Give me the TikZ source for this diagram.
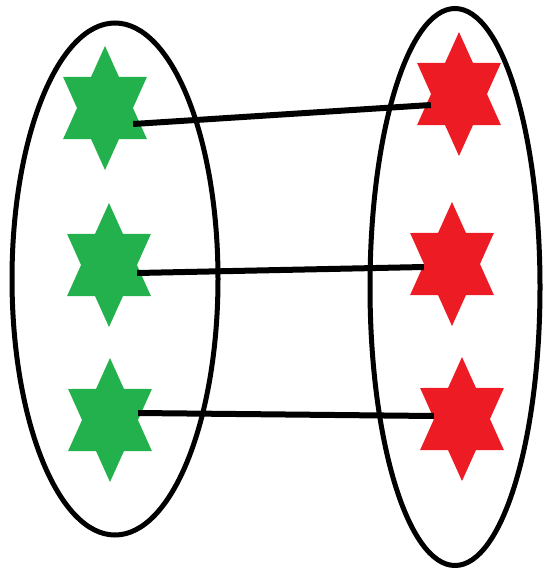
\documentclass[tikz,border=0pt]{standalone}
\usetikzlibrary{shapes.geometric}
\definecolor{leaf}{HTML}{22B14C}
\definecolor{brick}{HTML}{ED1C24}

\begin{document}
\begin{tikzpicture}[x=1pt, y=-1pt,
  st/.style={star, star points=6, star point ratio=1.73, inner sep=0pt,
             minimum size=124pt, xscale=0.78},
  gs/.style={st, fill=leaf},
  rs/.style={st, fill=brick},
  set/.style={ellipse, draw, line width=5pt, inner sep=0pt},
  ln/.style={line width=6pt}]
\useasboundingbox (0,0) rectangle (544,573);

\node[set, minimum width=206pt, minimum height=512pt] (A) at (115,279) {};
\node[set, minimum width=170pt, minimum height=557pt] (B) at (455,287) {};

\node[gs] (g1) at (105,108) {};
\node[gs] (g2) at (109,265) {};
\node[gs] (g3) at (110,420) {};
\node[rs] (r1) at (459,94) {};
\node[rs] (r2) at (452,264) {};
\node[rs] (r3) at (462,419) {};

\draw[ln] ([yshift=-16pt]g1.east) -- ([yshift=-11pt]r1.west);
\draw[ln] ([yshift=-8pt]g2.east) -- ([yshift=-3pt]r2.west);
\draw[ln] ([yshift=7pt]g3.east) -- ([yshift=3pt]r3.west);
\end{tikzpicture}
\end{document}
